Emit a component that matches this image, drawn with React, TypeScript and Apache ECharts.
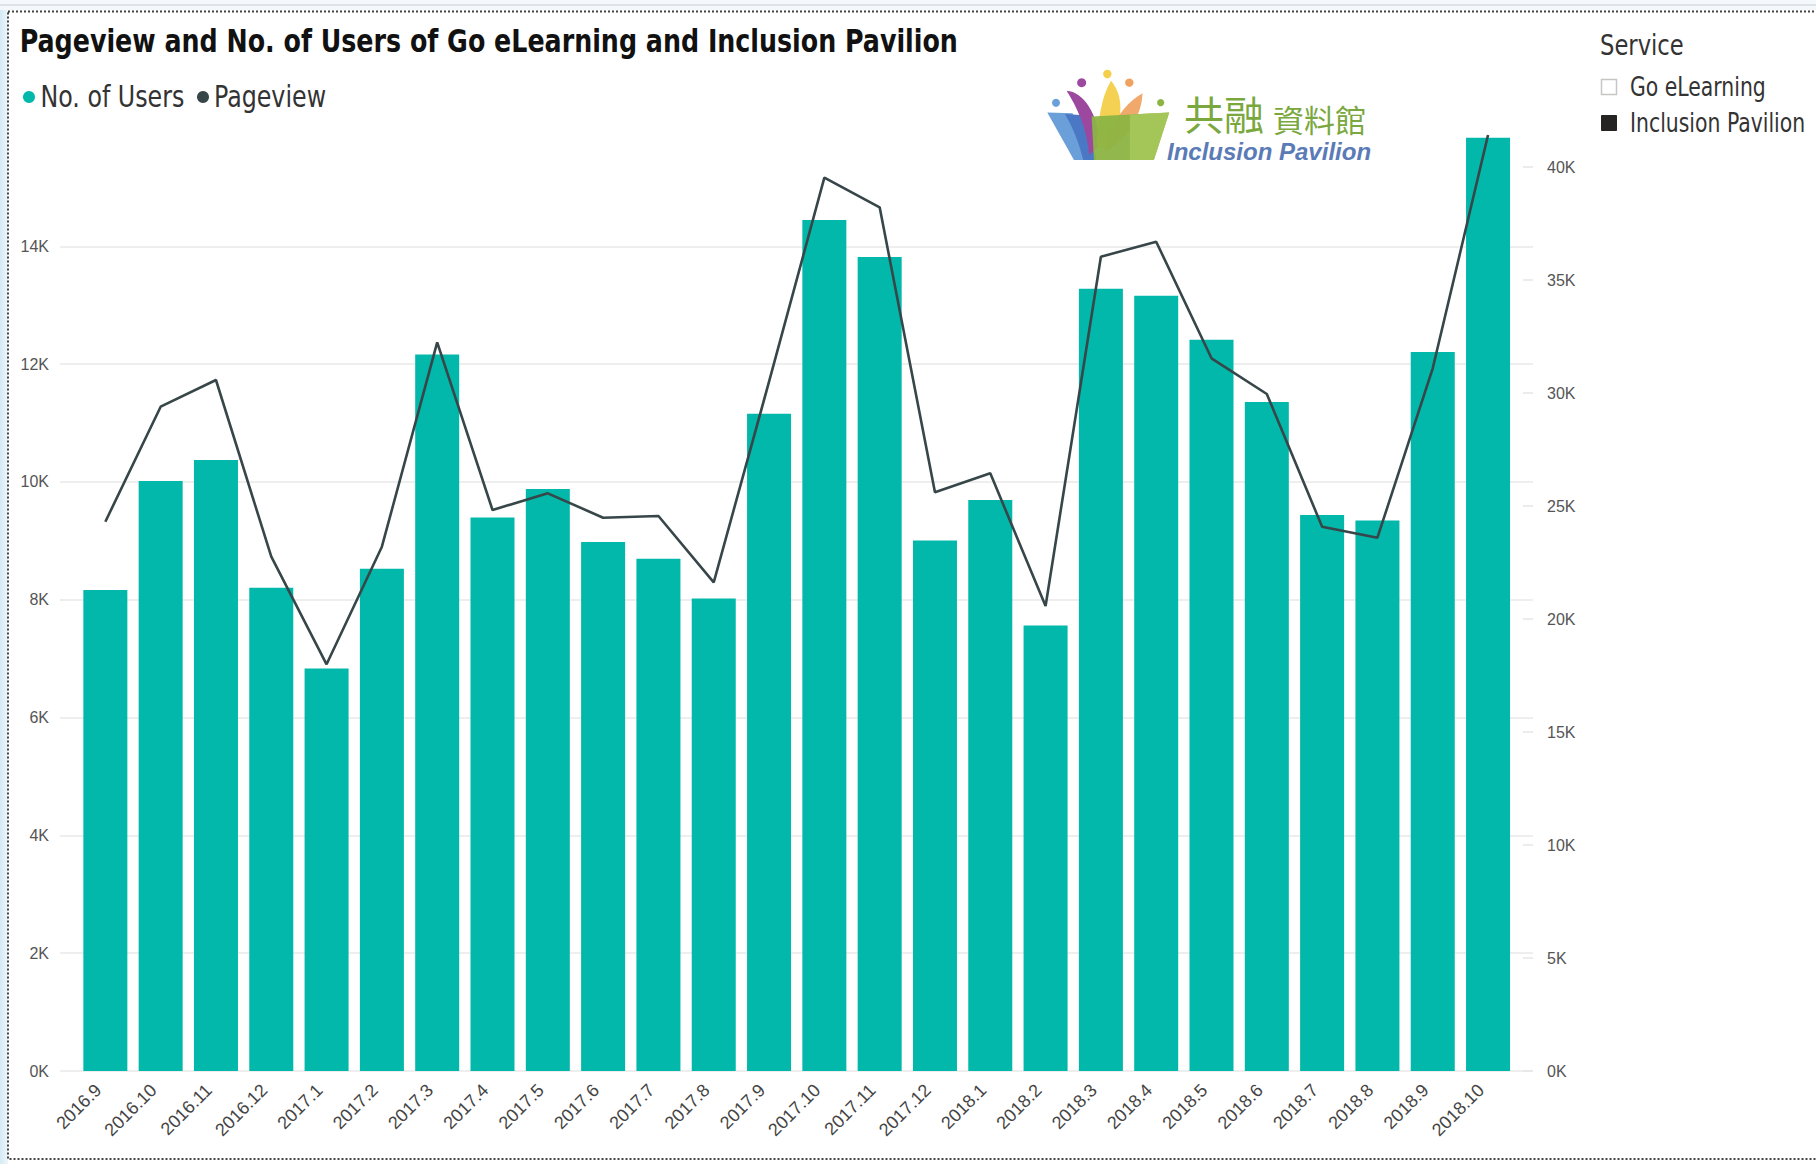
import React, { useEffect, useRef } from "react";
import * as echarts from "echarts";

const categories = [
  "2016.9", "2016.10", "2016.11", "2016.12",
  "2017.1", "2017.2", "2017.3", "2017.4", "2017.5", "2017.6",
  "2017.7", "2017.8", "2017.9", "2017.10", "2017.11", "2017.12",
  "2018.1", "2018.2", "2018.3", "2018.4", "2018.5", "2018.6",
  "2018.7", "2018.8", "2018.9", "2018.10",
];

const users = [
  8165, 10015, 10372, 8204,
  6835, 8526, 12166, 9399, 9879, 8980,
  8696, 8024, 11158, 14447, 13819, 9008,
  9693, 7565, 13280, 13162, 12415, 11357,
  9438, 9348, 12206, 15845,
];

const pageviews = [
  24305, 29394, 30575, 22757,
  17996, 23199, 32243, 24823, 25561, 24482,
  24558, 21624, 30500, 39527, 38217, 25606,
  26447, 20575, 36031, 36695, 31535, 29956,
  24084, 23597, 31093, 41416,
];

const seriesNames = ["No. of Users", "Pageview"];
const seriesColors = ["#01B8AA", "#374649"];

const serviceItems = ["Go eLearning", "Inclusion Pavilion"];
const serviceSelected = [false, true];

const LEFT_MAX = 15959;
const LEFT_INTERVAL = 2000;
const RIGHT_MAX = 41593;
const RIGHT_INTERVAL = 5000;

const NARROW = '"Liberation Sans Narrow", "DejaVu Sans Condensed", "Liberation Sans", sans-serif';
const SANS = '"Liberation Sans", Arial, sans-serif';

const logoPaths: Record<string, string> = {
  lgBlue: "M52 158 L128 160 L192 300 L132 300 Z",
  lgBlueDark: "M105 162 L150 165 Q185 230 200 300 L160 300 Q140 220 105 162 Z",
  lgPurple: "M110 92 C160 95 205 160 210 255 L178 285 C170 200 140 140 110 92 Z",
  lgYellow: "M243 62 C285 110 280 190 232 270 L200 255 C205 175 215 110 243 62 Z",
  lgOrange: "M338 100 C335 170 290 240 228 275 L232 225 C262 165 300 120 338 100 Z",
  lgGreen: "M185 170 L418 158 L372 300 L192 300 Z",
  lgGreenLight: "M300 164 L418 158 L372 300 L300 300 Z",
};

let registered = false;
function registerLogo() {
  if (registered) return;
  registered = true;
  Object.keys(logoPaths).forEach((k) => {
    echarts.graphic.registerShape(k, echarts.graphic.extendPath(logoPaths[k], {}));
  });
}

const kFmt = (v: number) => `${Math.round(v / 1000)}K`;

export default function App() {
  const ref = useRef<HTMLDivElement>(null);

  useEffect(() => {
    if (!ref.current) return;
    registerLogo();
    const chart = echarts.init(ref.current, undefined, { renderer: "svg" });

    const LX = 1030, LY = 60, LS = 1 / 3;
    const petal = (type: string, fill: string, opacity = 1) => ({
      type, x: LX, y: LY, scaleX: LS, scaleY: LS, z: 10,
      style: { fill, opacity },
    });
    const dot = (cx: number, cy: number, r: number, fill: string) => ({
      type: "circle", z: 11,
      shape: { cx: LX + cx * LS, cy: LY + cy * LS, r },
      style: { fill },
    });
    const ctext = (
      text: string, x: number, y: number, fontSize: number, sx: number,
      extra: any = {}
    ) => ({
      type: "text", z: 12, x, y, scaleX: sx, scaleY: 1,
      style: {
        text, fontFamily: NARROW, fontSize, fill: "#333",
        verticalAlign: "middle", align: "left", ...extra,
      },
    });

    const legendGraphics: any[] = [];
    const legendDotX = [29, 203];
    const legendTextX = [40.5, 214];
    seriesNames.forEach((name, i) => {
      legendGraphics.push({
        type: "circle", z: 12,
        shape: { cx: legendDotX[i], cy: 97, r: 6 },
        style: { fill: seriesColors[i] },
      });
      legendGraphics.push(ctext(name, legendTextX[i], 97, 30, 0.88));
    });

    const serviceGraphics: any[] = [ctext("Service", 1600, 45, 28, 0.9)];
    serviceItems.forEach((name, i) => {
      const cy = 87 + i * 36;
      serviceGraphics.push({
        type: "rect", z: 10,
        shape: { x: 1601.5, y: cy - 7.5, width: 15, height: 15 },
        style: serviceSelected[i]
          ? { fill: "#252423", stroke: "#252423", lineWidth: 1 }
          : { fill: "#fff", stroke: "#c8c6c4", lineWidth: 1.5 },
      });
      serviceGraphics.push(ctext(name, 1630, cy, 27, 0.84));
    });

    chart.setOption({
      animation: false,
      backgroundColor: "#ffffff",
      grid: [
        { left: 77.7, top: 131, width: 1438, height: 940, outerBoundsMode: "none" },
        { left: 60, top: 131, width: 1473, height: 940, outerBoundsMode: "none" },
      ],
      xAxis: [
        {
          gridIndex: 0,
          type: "category",
          data: categories,
          axisLine: { show: false },
          axisTick: { show: false },
          axisLabel: {
            interval: 0,
            rotate: 45,
            margin: 9,
            padding: [0, 10, 0, 0],
            fontFamily: SANS,
            fontSize: 18,
            color: "#444",
          },
        },
        { gridIndex: 1, type: "value", show: false, min: 0, max: 1 },
      ],
      yAxis: [
        { gridIndex: 0, type: "value", position: "left", min: 0, max: LEFT_MAX, interval: LEFT_INTERVAL, show: false },
        { gridIndex: 0, type: "value", position: "right", min: 0, max: RIGHT_MAX, interval: RIGHT_INTERVAL, show: false },
        {
          gridIndex: 1, type: "value", position: "left",
          min: 0, max: LEFT_MAX, interval: LEFT_INTERVAL,
          axisLine: { show: false },
          axisTick: { show: false },
          axisLabel: {
            formatter: kFmt, showMaxLabel: false, margin: 11,
            fontFamily: SANS, fontSize: 16, color: "#555",
          },
          splitLine: { show: true, showMaxLine: false, lineStyle: { color: "#e9e9e9", width: 1.5 } },
        },
        {
          gridIndex: 1, type: "value", position: "right",
          min: 0, max: RIGHT_MAX, interval: RIGHT_INTERVAL,
          axisLine: { show: false },
          axisTick: { show: true, inside: true, length: 10, lineStyle: { color: "#e6e6e6", width: 1.5 } },
          axisLabel: {
            formatter: kFmt, showMaxLabel: false, margin: 14,
            fontFamily: SANS, fontSize: 16, color: "#555",
          },
          splitLine: { show: false },
        },
      ],
      series: [
        {
          name: seriesNames[0],
          type: "bar",
          xAxisIndex: 0,
          yAxisIndex: 0,
          data: users,
          barWidth: 44,
          itemStyle: { color: seriesColors[0] },
          z: 2,
        },
        {
          name: seriesNames[1],
          type: "line",
          xAxisIndex: 0,
          yAxisIndex: 1,
          data: pageviews,
          showSymbol: false,
          symbol: "none",
          lineStyle: { color: seriesColors[1], width: 2.6 },
          itemStyle: { color: seriesColors[1] },
          z: 3,
        },
      ],
      graphic: [
        {
          type: "rect", z: -1, silent: true,
          shape: { x: 0, y: 0, width: 8, height: 1164 },
          style: {
            fill: new echarts.graphic.LinearGradient(0, 0, 1, 0, [
              { offset: 0, color: "#d4eaf4" },
              { offset: 1, color: "#eef7fb" },
            ]),
          },
        },
        {
          type: "rect", z: -1, silent: true,
          shape: { x: 0, y: 0, width: 1816, height: 10 },
          style: { fill: "#f5f8fa" },
        },
        {
          type: "line", z: 0, silent: true,
          shape: { x1: 0, y1: 5, x2: 1816, y2: 5 },
          style: { stroke: "#dde2e6", lineWidth: 2 },
        },
        {
          type: "rect", z: 0, silent: true,
          shape: { x: 8, y: 11.5, width: 1840, height: 1147.5 },
          style: { fill: "none", stroke: "#444", lineWidth: 2, lineDash: [2, 2] },
        },
        ctext("Pageview and No. of Users of Go eLearning and Inclusion Pavilion", 19.7, 40.5, 32, 0.88, {
          fontWeight: "bold", fill: "#111",
        }),
        ...legendGraphics,
        petal("lgBlue", "#6a9fd9"),
        petal("lgBlueDark", "#4a78c5"),
        petal("lgPurple", "#9d489f"),
        petal("lgYellow", "#f3cf4a", 0.95),
        petal("lgOrange", "#f0a25e", 0.92),
        petal("lgGreen", "#8cb443", 0.95),
        petal("lgGreenLight", "#a6c75a", 0.9),
        dot(78, 128, 4, "#6a9fd9"),
        dot(155, 68, 4.5, "#9d489f"),
        dot(232, 42, 4.2, "#f3cf4a"),
        dot(298, 68, 4.2, "#f0a25e"),
        dot(392, 128, 3.6, "#8cb443"),
        {
          type: "text", z: 11, x: 1184, y: 113,
          style: {
            text: "共融", fontFamily: '"Noto Sans CJK TC", "Noto Sans CJK SC", sans-serif',
            fontSize: 40, fill: "#7aa83e", verticalAlign: "middle", align: "left",
          },
        },
        {
          type: "text", z: 11, x: 1273, y: 118,
          style: {
            text: "資料館", fontFamily: '"Noto Sans CJK TC", "Noto Sans CJK SC", sans-serif',
            fontSize: 31, fill: "#7aa83e", verticalAlign: "middle", align: "left",
          },
        },
        {
          type: "text", z: 11, x: 1167, y: 151,
          style: {
            text: "Inclusion Pavilion", fontFamily: SANS, fontStyle: "italic", fontWeight: "bold",
            fontSize: 24, fill: "#5a7bb6", verticalAlign: "middle", align: "left",
          },
        },
        ...serviceGraphics,
      ],
    });

    return () => chart.dispose();
  }, []);

  return (
    <div
      ref={ref}
      style={{ position: "fixed", left: 0, top: 0, width: 1816, height: 1164, background: "#fff" }}
    />
  );
}
